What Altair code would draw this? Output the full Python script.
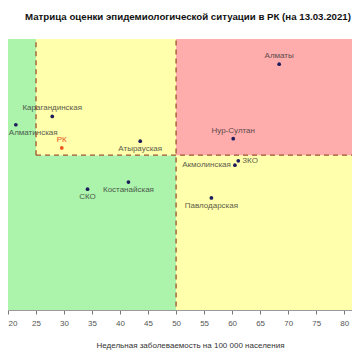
import altair as alt
import pandas as pd

# ---------------- data ----------------
regions = ["Алматы", "Нур-Султан", "Карагандинская", "Алматинская", "РК",
           "Атырауская", "Костанайская", "СКО", "ЗКО", "Акмолинская", "Павлодарская"]
incidence = [68.4, 60.2, 27.9, 21.4, 29.6, 43.6, 41.5, 34.2, 61.1, 60.5, 56.3]
growth = [1.67, 1.285, 1.40, 1.357, 1.237, 1.272, 1.061, 1.024, 1.171, 1.148, 0.979]

x_ticks = [20, 25, 30, 35, 40, 45, 50, 55, 60, 65, 70, 75, 80]
incidence_low = 25
incidence_high = 50
growth_threshold = 1.2

chart_title = "Матрица оценки эпидемиологической ситуации в РК (на 13.03.2021)"
x_title = "Недельная заболеваемость на 100 000 населения"

# ---------------- chart ----------------
FONT = "Liberation Sans"
label_side = {
    "Алматы": "above", "Нур-Султан": "above", "Карагандинская": "above", "РК": "above",
    "Алматинская": "below_edge", "Атырауская": "below", "Костанайская": "below",
    "СКО": "below", "Павлодарская": "below", "ЗКО": "right", "Акмолинская": "left",
}

df = pd.DataFrame({"region": regions, "incidence": incidence, "growth": growth})
df["side"] = df["region"].map(label_side)

XLO, XHI, YLO, YHI = 0, 100, 0, 3
zones = pd.DataFrame({
    "x0": [XLO, XLO, incidence_low, incidence_high, incidence_high],
    "x1": [incidence_low, incidence_high, incidence_high, XHI, XHI],
    "y0": [YLO, YLO, growth_threshold, YLO, growth_threshold],
    "y1": [YHI, growth_threshold, YHI, growth_threshold, YHI],
    "zone": ["low", "low", "mid", "mid", "high"],
})
rules = pd.DataFrame({
    "x0": [incidence_low, incidence_high, incidence_low],
    "x1": [incidence_low, incidence_high, XHI],
    "y0": [growth_threshold, YLO, growth_threshold],
    "y1": [YHI, YHI, growth_threshold],
})

xs = alt.Scale(domain=[20, 81.4], nice=False, zero=False)
ys = alt.Scale(domain=[0.4, 1.8], nice=False, zero=False)
x_axis = alt.Axis(values=x_ticks, title=x_title, grid=False, domain=True,
                  domainColor="#9a9a9a", tickColor="#777", tickSize=4,
                  labelFont=FONT, labelFontSize=8, labelColor="#555", labelPadding=5,
                  titleFont=FONT, titleFontSize=8, titleFontWeight="normal", titleColor="#333",
                  titleX=182, titleY=35, titleAlign="center", titleBaseline="middle",
                  labelFlush=True)

bg = alt.Chart(zones).mark_rect(clip=True).encode(
    x=alt.X("x0:Q", scale=xs, axis=x_axis),
    x2="x1:Q",
    y=alt.Y("y0:Q", scale=ys, axis=None),
    y2="y1:Q",
    color=alt.Color("zone:N", legend=None,
                    scale=alt.Scale(domain=["low", "mid", "high"],
                                    range=["#acf4ac", "#ffffac", "#ffacac"])),
)

lines = alt.Chart(rules).mark_rule(clip=True, color="#a0522d", strokeDash=[5, 4],
                                   strokeWidth=1.3).encode(
    x=alt.X("x0:Q", scale=xs, axis=x_axis),
    x2="x1:Q",
    y=alt.Y("y0:Q", scale=ys, axis=None),
    y2="y1:Q",
)

is_rk = alt.datum.region == "РК"
pts = alt.Chart(df).mark_circle(size=14, opacity=1).encode(
    x=alt.X("incidence:Q", scale=xs, axis=x_axis),
    y=alt.Y("growth:Q", scale=ys, axis=None),
    color=alt.condition(is_rk, alt.value("#e8541c"), alt.value("#1c1c5c")),
)

side_style = {
    "above": dict(dy=-8, align="center"),
    "below": dict(dy=8, align="center"),
    "below_edge": dict(dy=8, dx=-7, align="left"),
    "right": dict(dx=4, align="left"),
    "left": dict(dx=-4, align="right"),
}
text_layers = []
for side, st in side_style.items():
    text_layers.append(
        alt.Chart(df).transform_filter(alt.datum.side == side).mark_text(
            font=FONT, fontSize=8, baseline="middle", **st).encode(
            x=alt.X("incidence:Q", scale=xs, axis=x_axis),
            y=alt.Y("growth:Q", scale=ys, axis=None),
            text="region:N",
            color=alt.condition(is_rk, alt.value("#e8541c"), alt.value("#333333")),
            opacity=alt.condition(is_rk, alt.value(1), alt.value(0.8)),
        )
    )

chart = alt.layer(bg, lines, pts, *text_layers).properties(
    width=344, height=271,
    title=alt.TitleParams(chart_title, font=FONT, fontSize=9.7, fontWeight="bold",
                          color="#111", anchor="middle", dx=8, offset=12,
                          baseline="middle"),
    autosize=alt.AutoSizeParams(type="none"),
    padding={"left": 0, "right": 0, "top": 31, "bottom": 50},
).configure_view(stroke=None)

chart.save("out.html", embed_options={"renderer": "svg", "actions": False})
